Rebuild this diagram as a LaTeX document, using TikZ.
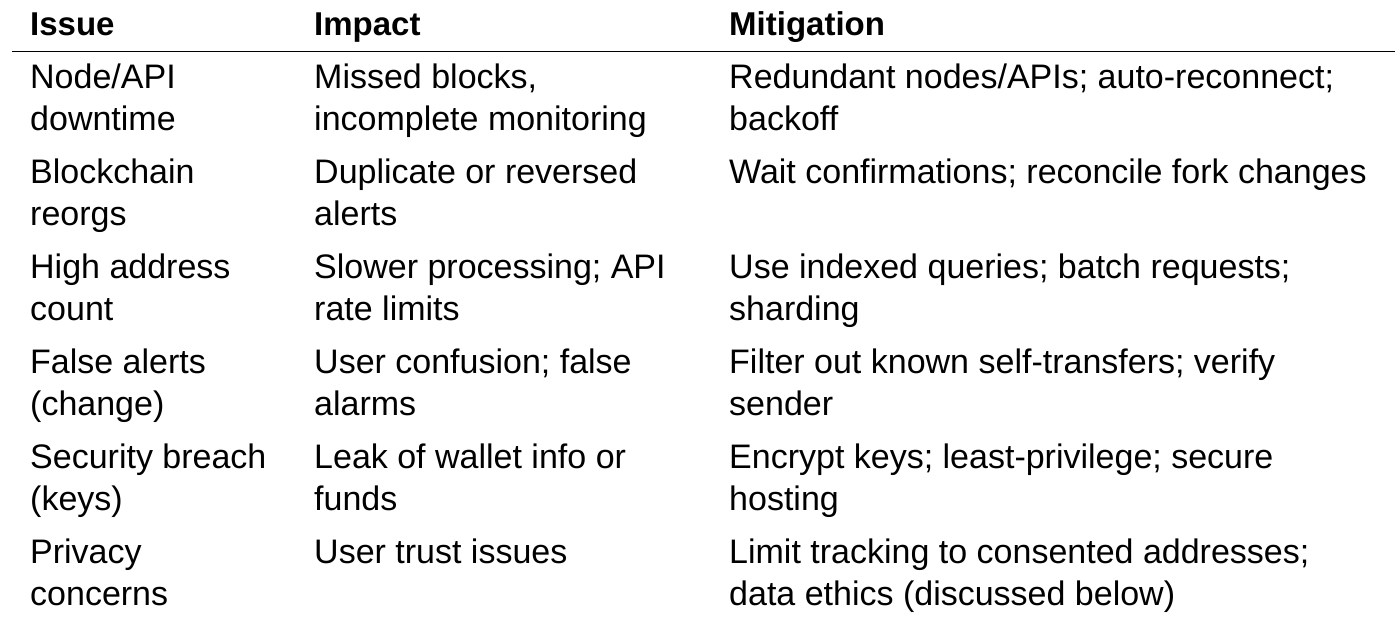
\documentclass[tikz,border=0pt]{standalone}
\usepackage{fontspec}
\setmainfont{Liberation Sans}
\begin{document}
\begin{tikzpicture}[x=1pt,y=1pt,
  cell/.style={anchor=base west,inner sep=0pt,font=\fontsize{34}{40}\selectfont},
  head/.style={cell,font=\fontsize{33}{40}\selectfont\bfseries}]
\useasboundingbox (0,0) rectangle (1400,628);
\fill[white] (0,0) rectangle (1400,628);
\node[head] (h1) at (30,592) {Issue};
\node[head] (h2) at (314,592) {Impact};
\node[head] (h3) at (729,592) {Mitigation};
\draw[line width=1pt] (12,576) -- (1395,576);
\foreach \r/\a/\b/\c/\d/\e/\f [count=\i] in {
 0/{Node/API}/{downtime}/{Missed blocks,}/{incomplete monitoring}/{Redundant nodes/APIs; auto-reconnect;}/{backoff},
 1/{Blockchain}/{reorgs}/{Duplicate or reversed}/{alerts}/{Wait confirmations; reconcile fork changes}/{},
 2/{High address}/{count}/{Slower processing; API}/{rate limits}/{Use indexed queries; batch requests;}/{sharding},
 3/{False alerts}/{(change)}/{User confusion; false}/{alarms}/{Filter out known self-transfers; verify}/{sender},
 4/{Security breach}/{(keys)}/{Leak of wallet info or}/{funds}/{Encrypt keys; least-privilege; secure}/{hosting},
 5/{Privacy}/{concerns}/{User trust issues}/{}/{Limit tracking to consented addresses;}/{data ethics (discussed below)}}{
  \pgfmathsetmacro\yy{539-95*\r}
  \node[cell] (a\i) at (30,\yy) {\a};
  \node[cell] (b\i) at (30,\yy-42) {\b};
  \node[cell] (c\i) at (314,\yy) {\c};
  \node[cell] (d\i) at (314,\yy-42) {\d};
  \node[cell] (e\i) at (729,\yy) {\e};
  \node[cell] (f\i) at (729,\yy-42) {\f};
}
\end{tikzpicture}
\end{document}
